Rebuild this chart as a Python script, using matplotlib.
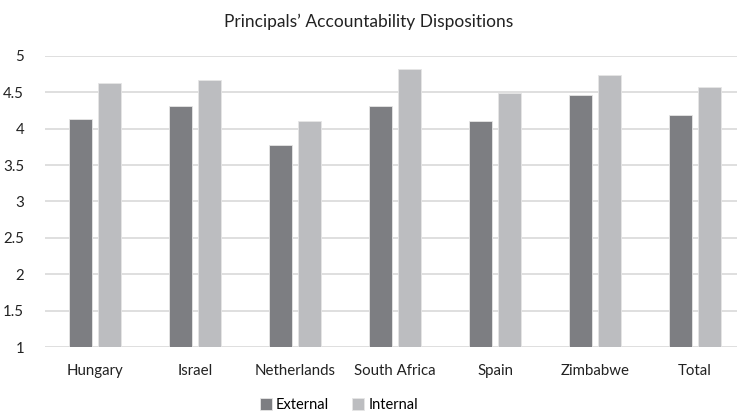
import numpy as np
import matplotlib
matplotlib.use("Agg")
from matplotlib import pyplot as plt

plt.rcParams['font.family'] = ['Lato', 'DejaVu Sans']

countries = ["Hungary", "Israel", "Netherlands", "South Africa", "Spain", "Zimbabwe", "Total"]
external = [4.13, 4.31, 3.77, 4.31, 4.11, 4.46, 4.18]
internal = [4.63, 4.66, 4.11, 4.82, 4.49, 4.74, 4.57]

fig = plt.figure(figsize=(7.37, 4.17), dpi=100)
ax = fig.add_axes([45/737, 1 - 347.3/417, 1 - 45/737, (347.3 - 55.7)/417])

x = np.arange(len(countries))
w = 0.225
ax.bar(x - 0.145, np.array(external) - 1, w, bottom=1, color="#7d7e82",
       edgecolor="#e6e6e6", linewidth=0.6, label="External", zorder=3)
ax.bar(x + 0.145, np.array(internal) - 1, w, bottom=1, color="#bcbdc0",
       edgecolor="#e6e6e6", linewidth=0.6, label="Internal", zorder=3)

ax.set_ylim(1, 5)
ax.set_xlim(-0.5, 6.42)
ax.set_yticks([1, 1.5, 2, 2.5, 3, 3.5, 4, 4.5, 5])
ax.set_yticklabels(["1", "1.5", "2", "2.5", "3", "3.5", "4", "4.5", "5"])
ax.set_xticks(x)
ax.set_xticklabels(countries)
ax.yaxis.grid(True, color="#d9d9d9", linewidth=1.2, zorder=0)
ax.tick_params(axis="both", length=0, labelsize=10.8, colors="#222222")
ax.tick_params(axis="x", pad=12)
ax.tick_params(axis="y", pad=15)
for s in ax.spines.values():
    s.set_visible(False)

fig.text(0.5, 1 - 22/417, "Principals\u2019 Accountability Dispositions",
         ha="center", va="center", fontsize=12.5, color="#222222")

fig.legend(loc="center", bbox_to_anchor=(0.46, 1 - 405/417), ncol=2, frameon=False,
           fontsize=10.5, handlelength=0.8, handleheight=0.8, handletextpad=0.3,
           columnspacing=1.6)

fig.savefig("out.png", dpi=100)
